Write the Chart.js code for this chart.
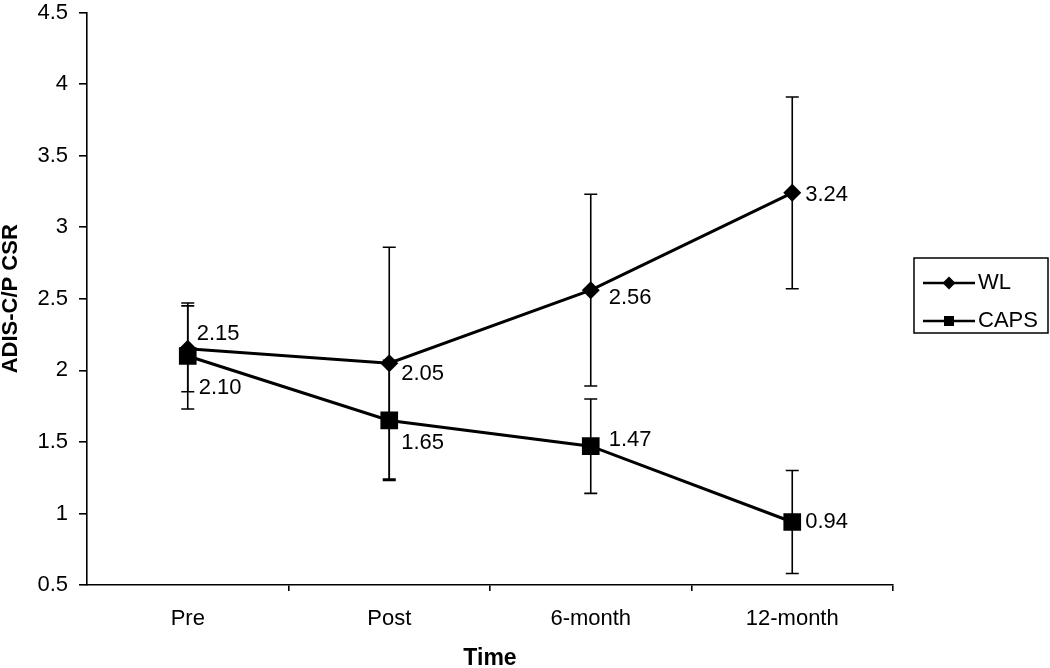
<!DOCTYPE html>
<html>
<head>
<meta charset="utf-8">
<script src="https://cdn.jsdelivr.net/npm/chart.js@4/dist/chart.umd.min.js"></script>
<style>
  html, body { margin: 0; padding: 0; background: #fff; }
  #wrap { width: 1050px; height: 668px; position: relative; }
</style>
</head>
<body>
<div id="wrap"><canvas id="c" width="1050" height="668"></canvas></div>
<script>
// ---- data ----
const categories = ['Pre', 'Post', '6-month', '12-month'];
const wlMeans = [2.15, 2.05, 2.56, 3.24];
const wlErrors = [0.30, 0.81, 0.67, 0.67];
const capsMeans = [2.10, 1.65, 1.47, 0.94];
const capsErrors = [0.37, 0.42, 0.33, 0.36];
const yTicks = [0.5, 1, 1.5, 2, 2.5, 3, 3.5, 4, 4.5];

// ---- label placement (style, not data) ----
const wlLabelOffsets = [[9, -15], [12, 11], [18, 8], [13, 2]];
const capsLabelOffsets = [[11, 32], [12, 23], [18, -6], [13, 0]];

const FONT = '"Liberation Sans", Arial, sans-serif';

const errorBarPlugin = {
  id: 'errorBars',
  beforeDatasetsDraw(chart) {
    const { ctx, scales: { x, y } } = chart;
    ctx.save();
    ctx.strokeStyle = '#000';
    ctx.lineWidth = 1.6;
    chart.data.datasets.forEach(ds => {
      ds.data.forEach((v, i) => {
        const e = ds.errors[i];
        const px = x.getPixelForValue(i);
        const yt = y.getPixelForValue(v + e);
        const yb = y.getPixelForValue(v - e);
        ctx.beginPath();
        ctx.moveTo(px, yt); ctx.lineTo(px, yb);
        ctx.moveTo(px - 6.5, yt); ctx.lineTo(px + 6.5, yt);
        ctx.moveTo(px - 6.5, yb); ctx.lineTo(px + 6.5, yb);
        ctx.stroke();
      });
    });
    ctx.restore();
  }
};

const dataLabelPlugin = {
  id: 'dataLabels',
  afterDatasetsDraw(chart) {
    const { ctx, scales: { x, y } } = chart;
    ctx.save();
    ctx.fillStyle = '#000';
    ctx.font = '22px ' + FONT;
    ctx.textAlign = 'left';
    ctx.textBaseline = 'middle';
    chart.data.datasets.forEach(ds => {
      ds.data.forEach((v, i) => {
        const off = ds.labelOffsets[i];
        ctx.fillText(v.toFixed(2), x.getPixelForValue(i) + off[0], y.getPixelForValue(v) + off[1]);
      });
    });
    ctx.restore();
  }
};

const legendPlugin = {
  id: 'boxLegend',
  afterDraw(chart) {
    const { ctx } = chart;
    const bx = 914, by = 258, bw = 134, bh = 75;
    ctx.save();
    ctx.strokeStyle = '#000';
    ctx.lineWidth = 1.5;
    ctx.strokeRect(bx, by, bw, bh);
    chart.data.datasets.forEach((ds, k) => {
      const ry = 283 + k * 38;
      ctx.lineWidth = 2.5;
      ctx.beginPath();
      ctx.moveTo(923, ry); ctx.lineTo(975, ry);
      ctx.stroke();
      ctx.fillStyle = '#000';
      ctx.beginPath();
      if (ds.pointStyle === 'rectRot') {
        const r = 6.5;
        ctx.moveTo(949, ry - r); ctx.lineTo(949 + r, ry);
        ctx.lineTo(949, ry + r); ctx.lineTo(949 - r, ry);
        ctx.closePath();
      } else {
        ctx.rect(949 - 5, ry - 5, 10, 10);
      }
      ctx.fill();
      ctx.font = '22px ' + FONT;
      ctx.textAlign = 'left';
      ctx.textBaseline = 'middle';
      ctx.fillText(ds.label, 978, ry);
    });
    ctx.restore();
  }
};

new Chart(document.getElementById('c'), {
  type: 'line',
  data: {
    labels: categories,
    datasets: [
      {
        label: 'WL', data: wlMeans, errors: wlErrors, labelOffsets: wlLabelOffsets,
        borderColor: '#000', backgroundColor: '#000', borderWidth: 3, tension: 0,
        pointStyle: 'rectRot', pointRadius: 9, pointBorderWidth: 0, pointBackgroundColor: '#000'
      },
      {
        label: 'CAPS', data: capsMeans, errors: capsErrors, labelOffsets: capsLabelOffsets,
        borderColor: '#000', backgroundColor: '#000', borderWidth: 3, tension: 0,
        pointStyle: 'rect', pointRadius: 12.5, pointBorderWidth: 0, pointBackgroundColor: '#000'
      }
    ]
  },
  options: {
    responsive: false,
    animation: false,
    events: [],
    layout: { padding: { top: 9, right: 157, left: 0, bottom: 0 } },
    plugins: { legend: { display: false }, tooltip: { enabled: false } },
    scales: {
      x: {
        type: 'category',
        offset: true,
        border: { display: true, color: '#000', width: 1.6 },
        grid: {
          display: true, offset: true, drawOnChartArea: false, drawTicks: true, tickLength: 6,
          color: c => (c.index === 0 ? 'rgba(0,0,0,0)' : '#000'), lineWidth: 1.6
        },
        ticks: { color: '#000', font: { family: FONT, size: 22 }, padding: 15, maxRotation: 0, autoSkip: false },
        title: { display: true, text: 'Time', color: '#000', font: { family: FONT, size: 23, weight: 'bold', lineHeight: 0.8 }, padding: 0 },
        afterFit(s) { s.height = 83; s.paddingLeft = 0; s.paddingRight = 0; }
      },
      y: {
        type: 'linear',
        min: 0.5, max: 4.5,
        afterBuildTicks(s) { s.ticks = yTicks.map(v => ({ value: v })); },
        border: { display: true, color: '#000', width: 1.6 },
        grid: { display: true, drawOnChartArea: false, drawTicks: true, tickLength: 8, color: '#000', lineWidth: 1.6 },
        ticks: { color: '#000', font: { family: FONT, size: 22 }, padding: 11, callback: v => String(v) },
        title: { display: true, text: 'ADIS-C/P CSR', color: '#000', font: { family: FONT, size: 22, weight: 'bold', lineHeight: 1 }, padding: 0 },
        afterFit(s) { s.width = 87; s.paddingTop = 0; s.paddingBottom = 0; }
      }
    }
  },
  plugins: [errorBarPlugin, dataLabelPlugin, legendPlugin]
});
</script>
</body>
</html>
